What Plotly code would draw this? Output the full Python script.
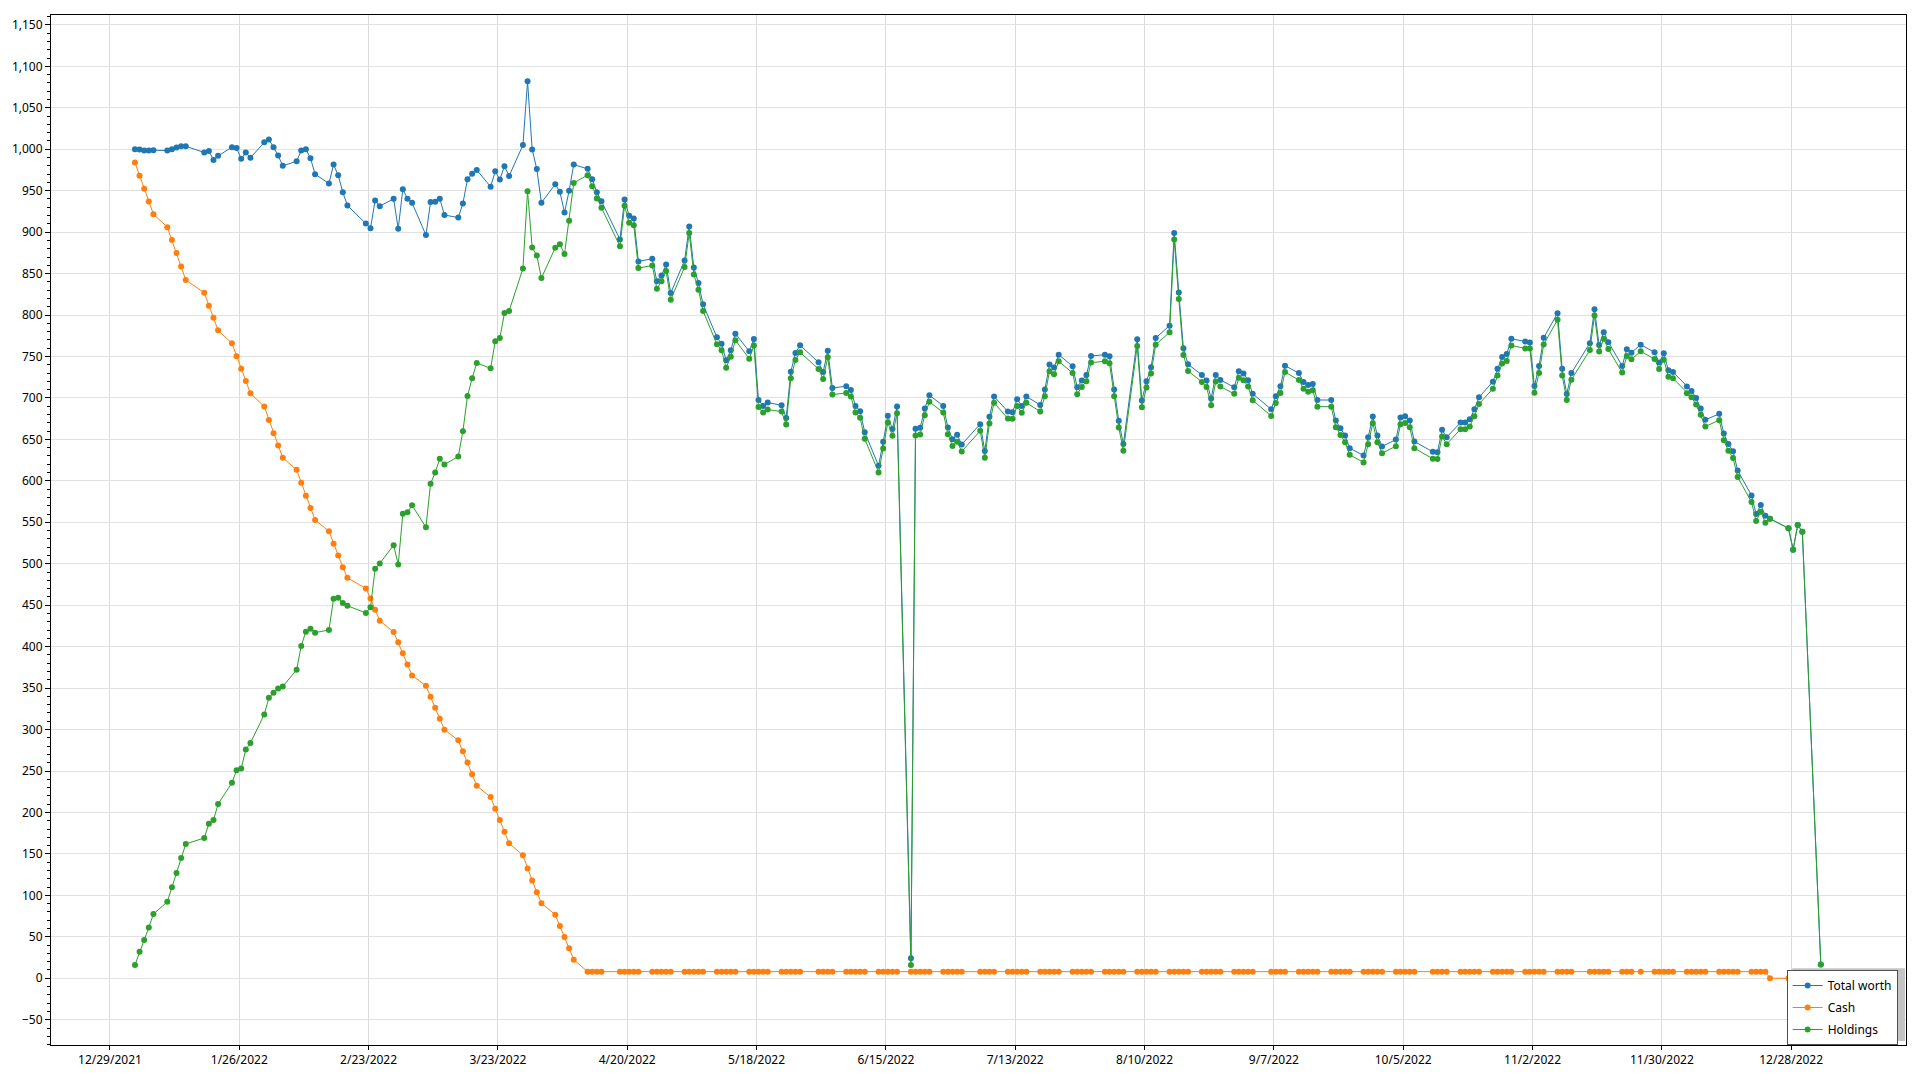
import pandas as pd
import plotly.graph_objects as go

# ---------------- data ----------------
# trading days (weekdays minus market/federal holidays that are absent from the series)
holidays = ["2022-01-17", "2022-02-21", "2022-04-15", "2022-05-30", "2022-07-04",
            "2022-09-05", "2022-10-10", "2022-11-11", "2022-11-24", "2022-12-26",
            "2023-01-02"]
sample_hour = 10  # timestamps of the samples sit ~10h after midnight

total_worth = [
    # Jan
    1000, 999.6, 998.4, 998.4, 998.8, 998.4, 1000, 1002, 1003.6, 1003.6, 996, 998, 987.1, 992, 1002.4, 1001.6, 988.4, 996, 989.6, 1008.4,
    # Feb
    1011.6, 1002.4, 992.4, 980, 985.5, 998.4, 1000, 989.2, 969.9, 958.6, 981.5, 968.7, 948.2, 932.1, 910.4, 904.8, 938.2, 931.3, 940.2,
    # Mar
    904, 951.8, 940.2, 935.3, 896.4, 936.3, 936.5, 940.4, 920.7, 917.5, 934.5, 963.7, 970.3, 974.9, 954.8, 973.3, 963.5, 979.5, 967.7, 1005, 1081.9, 999.8, 976.1,
    # Apr
    935.5, 957.8, 948.6, 923.7, 949.8, 981.5, 976.3, 963.9, 948.2, 937.3, 891.2, 939.4, 919.7, 916.5, 864.7, 867.9, 840.6, 847.8, 861, 826.5,
    # May
    865.9, 906.8, 857.4, 838.6, 812.9, 773.1, 765.5, 745.4, 757.4, 777.5, 756.2, 771.1, 697.6, 690.4, 694.4, 691.2, 675.9, 731.7, 754.2, 763.5, 743,
    # Jun
    731.3, 757, 712, 714.1, 709.7, 690.4, 684, 658.7, 618.2, 647.1, 678.4, 662.4, 689.6, 24.1, 662.8, 664, 687.2, 703.3, 690.4, 664.4, 650.3, 655.5,
    # Jul
    643.9, 668.4, 635.9, 677.2, 701.7, 683.6, 682.8, 698.5, 690.4, 701.7, 691.6, 710.1, 740.2, 736.6, 752.2, 738.2, 712.9, 720.9, 727.8, 750.6,
    # Aug
    752.2, 750.2, 710.1, 672.4, 644.3, 770.7, 696.9, 720.1, 737, 772.3, 787.2, 899, 827.3, 759.9, 740.6, 727.8, 720.9, 699.3, 727.8, 721.7, 712.9, 732.2, 729.4,
    # Sep
    721.3, 705, 686.3, 702, 714, 738.8, 730, 719.2, 715.6, 716.8, 697.5, 697.5, 672.7, 663.5, 654.6, 639.4, 630.6, 652.6, 677.5, 654.6, 641.4,
    # Oct
    649.8, 676.3, 677.9, 672.7, 647.4, 635, 634.6, 661.5, 652.6, 670.3, 670.3, 674.3, 686.3, 700.8, 719.6, 735.2, 749.3, 752.9, 771.3, 768.1,
    # Nov
    766.9, 714.4, 738.4, 772.5, 802.2, 735.2, 704.8, 730, 766.1, 807, 763.7, 779.3, 767.3, 738.6, 758.7, 754.6, 764.3, 755, 742.6, 753.8,
    # Dec
    733.4, 731.4, 713.7, 708.5, 700, 687.2, 673.6, 680.8, 657.1, 644.3, 635.8, 612.5, 582.4, 560, 570.8, 557.9, 554.3, 542.7, 517, 546.7, 538.7,
    # Jan 2023
    16.5,
]

cash = [
    # Jan
    983.9, 967.9, 952.2, 936.9, 921.7, 906, 890.4, 874.7, 858.6, 842.2, 826.9, 811.2, 796.8, 781.5, 765.9, 750.2, 735.3, 720.5, 705.6, 689.6,
    # Feb
    673.5, 657.4, 642.6, 627.7, 613.3, 597.6, 581.9, 567.2, 552.8, 539.2, 524, 509.9, 495.9, 483.1, 470.2, 458.2, 444.6, 431.3, 417.7,
    # Mar
    405.3, 392.1, 378.4, 365.2, 352.8, 339.5, 326.3, 313.1, 299.9, 287, 273.8, 260.2, 246.1, 232.1, 218.5, 204.4, 190.8, 176.8, 162.8, 148.3, 132.3, 117.9, 103.8,
    # Apr
    90.6, 76.6, 62.9, 49.7, 36.1, 22.4, 8, 8, 8, 8, 8, 8, 8, 8, 8, 8, 8, 8, 8, 8,
    # May
    8, 8, 8, 8, 8, 8, 8, 8, 8, 8, 8, 8, 8, 8, 8, 8, 8, 8, 8, 8, 8,
    # Jun
    8, 8, 8, 8, 8, 8, 8, 8, 8, 8, 8, 8, 8, 8, 8, 8, 8, 8, 8, 8, 8, 8,
    # Jul
    8, 8, 8, 8, 8, 8, 8, 8, 8, 8, 8, 8, 8, 8, 8, 8, 8, 8, 8, 8,
    # Aug
    8, 8, 8, 8, 8, 8, 8, 8, 8, 8, 8, 8, 8, 8, 8, 8, 8, 8, 8, 8, 8, 8, 8,
    # Sep
    8, 8, 8, 8, 8, 8, 8, 8, 8, 8, 8, 8, 8, 8, 8, 8, 8, 8, 8, 8, 8,
    # Oct
    8, 8, 8, 8, 8, 8, 8, 8, 8, 8, 8, 8, 8, 8, 8, 8, 8, 8, 8, 8,
    # Nov
    8, 8, 8, 8, 8, 8, 8, 8, 8, 8, 8, 8, 8, 8, 8, 8, 8, 8, 8, 8,
    # Dec
    8, 8, 8, 8, 8, 8, 8, 8, 8, 8, 8, 8, 8, 8, 8, 8, 0, 0, 0, 0, 0,
    # Jan 2023
    0,
]

holdings = [
    # Jan
    16, 32.1, 46.1, 61.3, 77.4, 92.2, 109.8, 127.1, 145.1, 162, 169.2, 186.4, 190.8, 210.1, 235.8, 251, 253, 275.8, 283.8, 318.3,
    # Feb
    338.3, 344.4, 349.6, 352, 372, 400.9, 418.1, 421.7, 416.9, 420.1, 457.8, 459, 452.6, 449.4, 440.6, 447.4, 493.9, 500.3, 522.4,
    # Mar
    499.1, 560.4, 562, 570.5, 544, 596.6, 610.1, 626.5, 619.7, 629.3, 659.8, 702.4, 723.7, 742.2, 735.7, 768.3, 772.3, 802.4, 804.8, 856.2, 949.4, 881.5, 871.9,
    # Apr
    844.6, 881.1, 885.5, 873.5, 913.7, 959.4, 968.7, 955.4, 940.6, 929.3, 883.1, 931.7, 911.2, 908.4, 856.6, 859.8, 831.7, 840.6, 853, 818.5,
    # May
    857.8, 898.8, 849, 830.5, 804.8, 764.7, 757.4, 736.5, 749.8, 769.5, 747.4, 763.1, 689.2, 682.3, 686, 683.5, 667.9, 723.7, 745.8, 755, 734.9,
    # Jun
    722.9, 749, 704, 706.1, 701.7, 682.4, 676, 650.7, 610.2, 639.1, 670.4, 654.4, 681.6, 16.1, 654.7, 655.9, 679.2, 695.3, 682.4, 656.3, 641.9, 647.1,
    # Jul
    635.5, 660.3, 627.8, 669.2, 694.1, 675.2, 674.8, 690.4, 682, 694.1, 683.6, 702.1, 732.2, 728.6, 744.2, 730.2, 704.5, 713.3, 720.1, 742.6,
    # Aug
    744.2, 741.8, 702.1, 664.4, 636.3, 762.7, 688.8, 712.5, 729.4, 764.3, 779.1, 891, 819.3, 751.8, 732.6, 719.3, 713.3, 691.2, 719.7, 713.7, 704.9, 724.2, 721.3,
    # Sep
    713.7, 697.2, 678.3, 693.9, 706, 731.2, 721.6, 711.2, 707.6, 709.2, 689.5, 689.5, 664.7, 655.4, 646.6, 631.4, 622.2, 644.2, 669.5, 646.6, 633.4,
    # Oct
    641.8, 668.3, 669.9, 664.7, 639.4, 626.6, 626.2, 653.5, 644.2, 662.3, 662.3, 665.5, 677.9, 692.7, 711.2, 727.2, 741.6, 744.4, 763.3, 759.7,
    # Nov
    759.7, 706.4, 730, 764.5, 794.2, 727.2, 697.5, 722, 757.7, 799.4, 756.1, 771.3, 758.9, 730.6, 750.6, 746.6, 756.2, 747, 735, 746.2,
    # Dec
    725.7, 723.7, 705.7, 700.9, 692, 679.6, 665.5, 673.2, 649.1, 636.2, 627.4, 604.5, 574.4, 551.5, 562.8, 549.5, 554.3, 542.7, 517, 546.7, 538.7,
    # Jan 2023
    16.5,
]

series_names = ["Total worth", "Cash", "Holdings"]
series_colors = ["#1f77b4", "#ff7f0e", "#2ca02c"]

# ---------------- figure ----------------
days = pd.bdate_range("2022-01-03", "2023-01-03")
days = days[~days.isin(pd.to_datetime(holidays))]
dates = days + pd.Timedelta(hours=sample_hour)
assert len(dates) == len(total_worth) == len(cash) == len(holdings)

fig = go.Figure()
for name, ys, col in zip(series_names, [total_worth, cash, holdings], series_colors):
    fig.add_trace(go.Scatter(
        x=dates, y=ys, name=name, mode="lines+markers", legendgroup=name,
        line=dict(color=col, width=1),
        marker=dict(color=col, size=6, line=dict(width=0)),
    ))

# plot-area pixel geometry -> paper coordinates helper for the legend shadow
L, R, T, B = 48, 1906, 15, 1049
def px(x):
    return (x - L) / (R - L)
def py(y):
    return (B - y) / (B - T)

fig.add_shape(type="rect", xref="paper", yref="paper",
              x0=px(1792), x1=px(1905), y0=py(1045), y1=py(972),
              fillcolor="#c4c4c4", line=dict(width=0), layer="above")

FONT = "Segoe UI, Noto Sans, Open Sans, sans-serif"
fig.update_layout(
    width=1920, height=1080,
    margin=dict(l=L, r=1920 - R, t=T, b=1080 - B),
    paper_bgcolor="white", plot_bgcolor="white",
    font=dict(family=FONT, size=12, color="#000000"),
    showlegend=True,
    legend=dict(x=0.9955, y=0.0, xanchor="right", yanchor="bottom",
                bgcolor="white", bordercolor="#505050", borderwidth=1,
                tracegroupgap=3, font=dict(family=FONT, size=12, color="#000000")),
    xaxis=dict(
        type="date", range=["2021-12-16 05:45", "2023-01-21 20:40"],
        tick0="2021-12-29", dtick=28 * 86400000, tickformat="%-m/%-d/%Y",
        showgrid=True, gridcolor="#dadada", gridwidth=1,
        showline=True, linecolor="black", linewidth=1, mirror=True,
        ticks="outside", ticklen=4, tickcolor="black", zeroline=False,
    ),
    yaxis=dict(
        range=[-80.5, 1161.9], tick0=0, dtick=50, tickformat=",d",
        showgrid=True, gridcolor="#e2e2e2", gridwidth=1,
        showline=True, linecolor="black", linewidth=1, mirror=True,
        ticks="outside", ticklen=5, tickcolor="black", zeroline=False,
        minor=dict(dtick=10, ticks="outside", ticklen=3, tickcolor="black", showgrid=False),
    ),
)

fig.write_html("out.html", config={"displayModeBar": False},
               post_script="document.body.style.margin='0';document.body.style.overflow='hidden';")
